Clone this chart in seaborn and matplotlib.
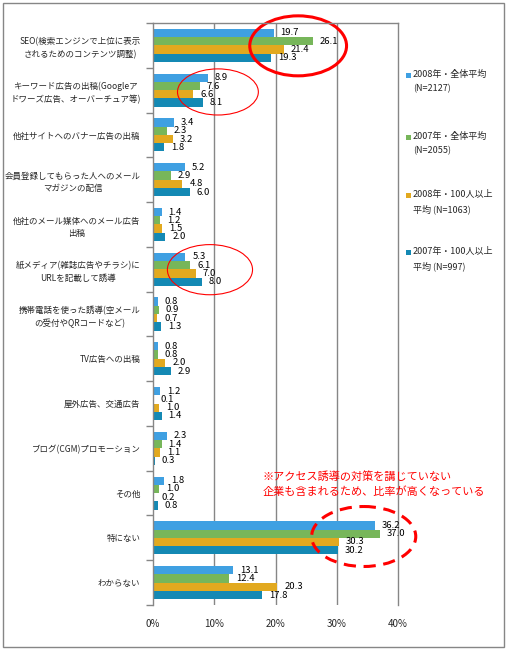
import matplotlib
matplotlib.use("Agg")
import matplotlib.pyplot as plt
from matplotlib.patches import Ellipse, Rectangle
from matplotlib.ticker import FixedLocator
import seaborn as sns
import pandas as pd

categories = [
    "SEO(検索エンジンで上位に表示\nされるためのコンテンツ調整)",
    "キーワード広告の出稿(Googleア\nドワーズ広告、オーバーチュア等)",
    "他社サイトへのバナー広告の出稿",
    "会員登録してもらった人へのメール\nマガジンの配信",
    "他社のメール媒体へのメール広告\n出稿",
    "紙メディア(雑誌広告やチラシ)に\nURLを記載して誘導",
    "携帯電話を使った誘導(空メール\nの受付やQRコードなど)",
    "TV広告への出稿",
    "屋外広告、交通広告",
    "ブログ(CGM)プロモーション",
    "その他",
    "特にない",
    "わからない",
]
series_names = [
    "2008年・全体平均\n(N=2127)",
    "2007年・全体平均\n(N=2055)",
    "2008年・100人以上\n平均 (N=1063)",
    "2007年・100人以上\n平均 (N=997)",
]
all_2008 = [19.7, 8.9, 3.4, 5.2, 1.4, 5.3, 0.8, 0.8, 1.2, 2.3, 1.8, 36.2, 13.1]
all_2007 = [26.1, 7.6, 2.3, 2.9, 1.2, 6.1, 0.9, 0.8, 0.1, 1.4, 1.0, 37.0, 12.4]
big_2008 = [21.4, 6.6, 3.2, 4.8, 1.5, 7.0, 0.7, 2.0, 1.0, 1.1, 0.2, 30.3, 20.3]
big_2007 = [19.3, 8.1, 1.8, 6.0, 2.0, 8.0, 1.3, 2.9, 1.4, 0.3, 0.8, 30.2, 17.8]
x_ticks = [0, 10, 20, 30, 40]
x_tick_labels = ["0%", "10%", "20%", "30%", "40%"]
note_text = "※アクセス誘導の対策を講じていない\n企業も含まれるため、比率が高くなっている"

colors = ["#3FA0E2", "#77B65A", "#E2A91F", "#1489B4"]
grey = "#868686"

rows = []
for name, vals in zip(series_names, [all_2008, all_2007, big_2008, big_2007]):
    for c, v in zip(categories, vals):
        rows.append({"cat": c, "series": name, "value": v})
df = pd.DataFrame(rows)

sns.set_theme(style="white")
plt.rcParams["font.family"] = ["Noto Sans CJK JP", "DejaVu Sans"]

W, H = 507, 650
fig = plt.figure(figsize=(W / 100, H / 100), dpi=100)
ax = fig.add_axes([153 / W, 1 - 605 / H, (398 - 153) / W, (605 - 23) / H])

sns.barplot(data=df, x="value", y="cat", hue="series", orient="h",
            order=categories, hue_order=series_names, palette=colors,
            width=0.74, saturation=1, errorbar=None, legend=False, ax=ax,
            linewidth=0)

for cont in ax.containers:
    ax.bar_label(cont, fmt="%.1f", padding=5, fontsize=6.8, color="black")

ax.set_xlim(0, 40)
ax.set_ylim(len(categories) - 0.5, -0.5)
ax.set_xticks(x_ticks)
ax.set_xticklabels(x_tick_labels, fontsize=7)
ax.tick_params(axis="x", length=0, pad=10)
ax.set_xlabel("")
ax.set_ylabel("")

ax.tick_params(axis="y", which="major", length=0, pad=9, labelsize=6.1)
for lab in ax.get_yticklabels():
    lab.set_multialignment("center")
    lab.set_linespacing(1.5)
ax.yaxis.set_minor_locator(FixedLocator([i - 0.5 for i in range(len(categories) + 1)]))
ax.tick_params(axis="y", which="minor", length=5, width=1, color=grey, direction="out", left=True)

for x in x_ticks[1:-1]:
    ax.axvline(x, color=grey, lw=1, zorder=0)
for side in ["left", "top", "right"]:
    ax.spines[side].set_visible(True)
    ax.spines[side].set_color(grey)
    ax.spines[side].set_linewidth(1)
ax.spines["bottom"].set_visible(False)

# ellipses highlighting values
ax.add_patch(Ellipse((23.7, 0.01), 15.8, 1.34, fill=False, edgecolor="#FF0000", lw=2.2, clip_on=False))
ax.add_patch(Ellipse((10.6, 1.04), 13.2, 1.03, fill=False, edgecolor="#FF0000", lw=0.8, clip_on=False))
ax.add_patch(Ellipse((9.3, 5.01), 13.9, 1.12, fill=False, edgecolor="#FF0000", lw=0.8, clip_on=False))
ax.add_patch(Ellipse((34.4, 10.97), 17.0, 1.34, fill=False, edgecolor="#FF0000", lw=2.2,
                     linestyle=(0, (4, 2.5)), clip_on=False))

fig.text(263 / W, 1 - 471 / H, note_text, color="#FF0000", fontsize=8, va="top", ha="left",
         linespacing=1.45)

# legend
leg_y = [75, 137, 195, 252]
for name, col, y in zip(series_names, colors, leg_y):
    fig.patches.append(Rectangle((406 / W, 1 - (y + 2.5) / H), 5 / W, 5 / H,
                                 transform=fig.transFigure, facecolor=col, edgecolor="none"))
    fig.text(413 / W, 1 - (y - 5) / H, name, fontsize=6.5, va="top", ha="left", linespacing=1.65)

fig.patches.append(Rectangle((3 / W, 1 - 647 / H), (504 - 3) / W, (647 - 3) / H,
                             transform=fig.transFigure, fill=False, edgecolor=grey, lw=1))

fig.savefig("out.png", dpi=100, facecolor="white")
